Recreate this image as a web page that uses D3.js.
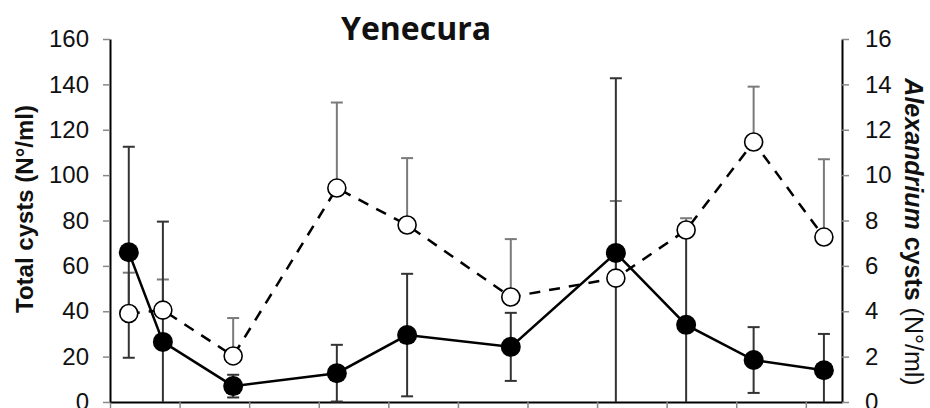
<!DOCTYPE html>
<html>
<head>
<meta charset="utf-8">
<script src="https://cdn.jsdelivr.net/npm/d3@7"></script>
<style>
  body { margin: 0; background: #fff; }
  svg text { font-family: "Liberation Sans", Arial, sans-serif; fill: #111; }
</style>
</head>
<body>
<div id="chart"></div>
<script>
// sampling times (month units along the x axis)
var sampleTimes = [0.27, 0.76, 1.77, 3.26, 4.27, 5.76, 7.27, 8.28, 9.25, 10.26];
// total cysts (left axis), mean and symmetric error
var totalCysts = [66, 26.5, 7, 12.7, 29.5, 24.3, 65.7, 34, 18.5, 14];
var totalErr = [46.5, 53, 5, 12.5, 27, 15, 77, 40.5, 14.5, 16];
// Alexandrium cysts (right axis), mean and upper error
var alexCysts = [3.9, 4.05, 2.03, 9.43, 7.8, 4.63, 5.46, 7.58, 11.46, 7.27];
var alexErr = [1.8, 1.35, 1.67, 3.77, 2.95, 2.55, 3.4, 0.52, 2.44, 3.43];
var xTicks = d3.range(0, 11);
var leftTicks = d3.range(0, 161, 20);
var rightTicks = d3.range(0, 17, 2);

var W = 930, H = 408;
var x0 = 110, x1 = 842, yTop = 39, yBot = 402;

var svg = d3.select("#chart").append("svg")
  .attr("width", W)
  .attr("height", H);

var x = d3.scaleLinear().domain([0, 10.52]).range([x0, x1]);
var yL = d3.scaleLinear().domain([0, 160]).range([yBot, yTop]);
var yR = d3.scaleLinear().domain([0, 16]).range([yBot, yTop]);

// axes
var gx = svg.append("g")
  .attr("transform", "translate(0," + yBot + ")")
  .call(d3.axisBottom(x).tickValues(xTicks).tickFormat("").tickSize(6).tickSizeOuter(0));
var gl = svg.append("g")
  .attr("transform", "translate(" + x0 + ",0)")
  .call(d3.axisLeft(yL).tickValues(leftTicks).tickSize(7).tickSizeOuter(0).tickPadding(14));
var gr = svg.append("g")
  .attr("transform", "translate(" + x1 + ",0)")
  .call(d3.axisRight(yR).tickValues(rightTicks).tickSize(7).tickSizeOuter(0).tickPadding(16));

[gx, gl, gr].forEach(function(g) {
  g.select(".domain").attr("stroke", "#000").attr("stroke-width", 2);
  g.selectAll(".tick line").attr("stroke", "#888").attr("stroke-width", 1.5);
  g.selectAll(".tick text")
    .style("font-size", "24px")
    .style("font-family", "'Liberation Sans', Arial, sans-serif")
    .attr("fill", "#111");
});

// error bars: Alexandrium (upper only)
var capW = 6;
var alexBars = svg.append("g").attr("stroke", "#7a7a7a").attr("stroke-width", 2);
alexCysts.forEach(function(v, i) {
  var cx = x(sampleTimes[i]);
  var top = yR(v + alexErr[i]);
  alexBars.append("line").attr("x1", cx).attr("x2", cx).attr("y1", yR(v)).attr("y2", top);
  alexBars.append("line").attr("x1", cx - capW).attr("x2", cx + capW).attr("y1", top).attr("y2", top);
});

// error bars: total cysts (symmetric, clipped at 0)
var totBars = svg.append("g").attr("stroke", "#333").attr("stroke-width", 2);
totalCysts.forEach(function(v, i) {
  var cx = x(sampleTimes[i]);
  var hi = v + totalErr[i], lo = Math.max(0, v - totalErr[i]);
  totBars.append("line").attr("x1", cx).attr("x2", cx).attr("y1", yL(lo)).attr("y2", yL(hi));
  totBars.append("line").attr("x1", cx - capW).attr("x2", cx + capW).attr("y1", yL(hi)).attr("y2", yL(hi));
  if (v - totalErr[i] > 0) {
    totBars.append("line").attr("x1", cx - capW).attr("x2", cx + capW).attr("y1", yL(lo)).attr("y2", yL(lo));
  }
});

// lines
var alexLine = d3.line().x(function(d, i) { return x(sampleTimes[i]); }).y(function(d) { return yR(d); });
var totLine = d3.line().x(function(d, i) { return x(sampleTimes[i]); }).y(function(d) { return yL(d); });

svg.append("path")
  .datum(alexCysts)
  .attr("d", alexLine)
  .attr("fill", "none")
  .attr("stroke", "#000")
  .attr("stroke-width", 2.5)
  .attr("stroke-dasharray", "11,9");

svg.append("path")
  .datum(totalCysts)
  .attr("d", totLine)
  .attr("fill", "none")
  .attr("stroke", "#000")
  .attr("stroke-width", 2.5);

// markers
svg.append("g").selectAll("circle")
  .data(alexCysts)
  .enter()
  .append("circle")
    .attr("cx", function(d, i) { return x(sampleTimes[i]); })
    .attr("cy", function(d) { return yR(d); })
    .attr("r", 9)
    .attr("fill", "#fff")
    .attr("stroke", "#000")
    .attr("stroke-width", 1.6);

svg.append("g").selectAll("circle")
  .data(totalCysts)
  .enter()
  .append("circle")
    .attr("cx", function(d, i) { return x(sampleTimes[i]); })
    .attr("cy", function(d) { return yL(d); })
    .attr("r", 10)
    .attr("fill", "#000");

// title
svg.append("text")
  .attr("x", 416)
  .attr("y", 40)
  .attr("text-anchor", "middle")
  .style("font-family", "'Open Sans', sans-serif")
  .style("font-weight", "700")
  .style("font-size", "32px")
  .text("Yenecura");

// left axis title
svg.append("text")
  .attr("transform", "translate(33,209) rotate(-90)")
  .attr("text-anchor", "middle")
  .style("font-weight", "bold")
  .style("font-size", "24px")
  .text("Total cysts (N°/ml)");

// right axis title
var rt = svg.append("text")
  .attr("transform", "translate(905,232) rotate(90)")
  .attr("text-anchor", "middle")
  .style("font-size", "25px");
rt.append("tspan").style("font-weight", "bold").style("font-style", "italic").text("Alexandrium");
rt.append("tspan").style("font-weight", "bold").text(" cysts");
rt.append("tspan").text(" (N°/ml)");
</script>
</body>
</html>
